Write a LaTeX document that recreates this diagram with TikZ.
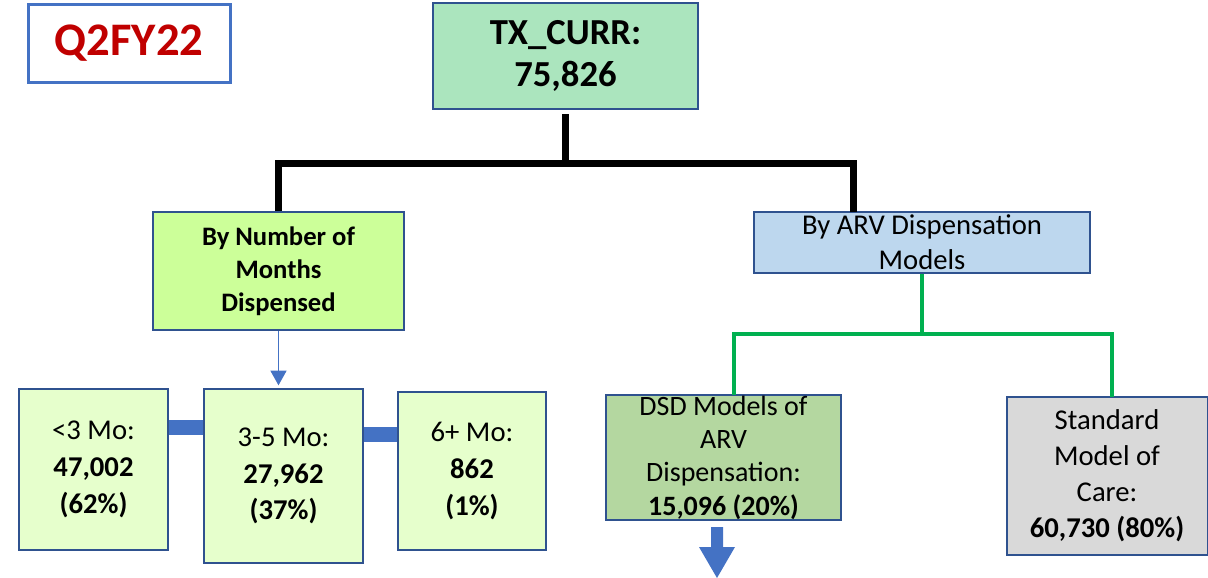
\documentclass[tikz,border=0pt]{standalone}
\usepackage{fontspec}
\setmainfont{Carlito}
\usepackage{tikz}
\usetikzlibrary{
  arrows.meta,
  calc
}
\definecolor{boxborder}{RGB}{47, 82, 143}
\definecolor{quarterblue}{RGB}{68, 114, 196}
\definecolor{quartertext}{RGB}{192, 0, 0}
\definecolor{totalfill}{RGB}{171, 229, 190}
\definecolor{monthsfill}{RGB}{204, 255, 153}
\definecolor{mofill}{RGB}{230, 255, 204}
\definecolor{arvfill}{RGB}{189, 215, 238}
\definecolor{dsdfill}{RGB}{180, 215, 160}
\definecolor{stdfill}{RGB}{217, 217, 217}
\definecolor{linkblue}{RGB}{68, 114, 196}
\definecolor{modelgreen}{RGB}{0, 176, 80}
\tikzset{
box/.style={
  draw=boxborder,
  line width=1.5pt,
  inner sep=0pt,
  align=center,
  text=black
},
totalbox/.style={
  box,
  fill=totalfill,
  minimum width=198.75pt,
  minimum height=79.5pt,
  font=\bfseries\fontsize{27.5}{32}\selectfont
},
mobox/.style={
  box,
  fill=mofill,
  font=\fontsize{21.5}{27.5}\selectfont
},
treeline/.style={
  line width=5.25pt,
  draw=black,
  line join=miter
},
modelline/.style={
  line width=3pt,
  draw=modelgreen,
  line join=miter
},
bar/.style={
  line width=11.25pt,
  draw=linkblue
},
thinarrow/.style={
  -{Triangle[length=11pt,width=12pt]},
  line width=1pt,
  draw=linkblue,
  fill=linkblue
}
}

\begin{document}
\begin{tikzpicture}[
    x=0.75pt, y=-0.75pt,
    quarterbox/.style={
      draw=quarterblue, line width=2.25pt, fill=white,
      minimum width=151.5pt, minimum height=58.5pt,
      font=\bfseries\fontsize{35}{40}\selectfont, text=quartertext
    },
  ]
  \useasboundingbox (0,0) rectangle (1208,578);

  % Top boxes
  \node[quarterbox] (quarter) at (129,43) {Q2FY22};
  \node[totalbox] (txcurr) at (565.5,56) {TX\_CURR:\\75,826};

  % Second level
  \node[box, fill=monthsfill, minimum width=188.25pt, minimum height=88.5pt,
    font=\bfseries\fontsize{20}{24.75}\selectfont] (months) at (278.5,271)
    {By Number of\\Months\\Dispensed};
  \node[box, fill=arvfill, minimum width=252pt, minimum height=45.75pt,
    font=\fontsize{21.5}{26.25}\selectfont] (arv) at (922,242.5)
    {By ARV Dispensation\\Models};

  % Months dispensed
  \node[mobox, minimum width=111.75pt, minimum height=120.75pt] (lt3) at (93.5,469.5)
    {<3 Mo:\\\textbf{47,002}\\\textbf{(62\%)}};
  \node[mobox, minimum width=119.25pt, minimum height=130.5pt] (m35) at (283.5,476)
    {3-5 Mo:\\\textbf{27,962}\\\textbf{(37\%)}};
  \node[mobox, minimum width=111pt, minimum height=118.5pt] (m6) at (472,471)
    {6+ Mo:\\\textbf{862}\\\textbf{(1\%)}};

  % Dispensation models
  \node[box, fill=dsdfill, minimum width=176.25pt, minimum height=93.75pt,
    font=\fontsize{21}{25}\selectfont] (dsd) at (723.5,457.5)
    {DSD Models of\\ARV\\Dispensation:\\\textbf{15,096 (20\%)}};
  \node[box, fill=stdfill, minimum width=150.75pt, minimum height=118.5pt,
    font=\fontsize{21.5}{27}\selectfont] (std) at (1107,476)
    {Standard\\Model of\\Care:\\\textbf{60,730 (80\%)}};

  % Tree connectors
  \coordinate (hub) at (565.5,163);
  \coordinate (arvin) at (853,212);
  \coordinate (split) at (922,334);
  \coordinate (dsdin) at (734,395);
  \coordinate (stdin) at (1112,397);
  \draw[treeline] ([yshift=-3pt]txcurr.south) -- ([yshift=-2pt]hub);
  \draw[treeline] (months.north) |- (hub) -| (arvin);
  \draw[modelline] (arv.south) -- (split);
  \draw[modelline] (dsdin) |- (split) -| (stdin);

  % Links between month boxes
  \draw[thinarrow] (months.south) -- ([yshift=2pt]months.south |- m35.north);
  \draw[bar] (lt3.east |- 0,427.5) -- (m35.west |- 0,427.5);
  \draw[bar] (m35.east |- 0,434.5) -- (m6.west |- 0,434.5);

  % Arrow out of DSD
  \coordinate (dsdout) at (717,527);
  \fill[linkblue] (dsdout) ++(-6,0) -- ++(12,0) -- ++(0,20) -- ++(12,0)
    -- ++(-18,31) -- ++(-18,-31) -- ++(12,0) -- cycle;
\end{tikzpicture}
\end{document}
